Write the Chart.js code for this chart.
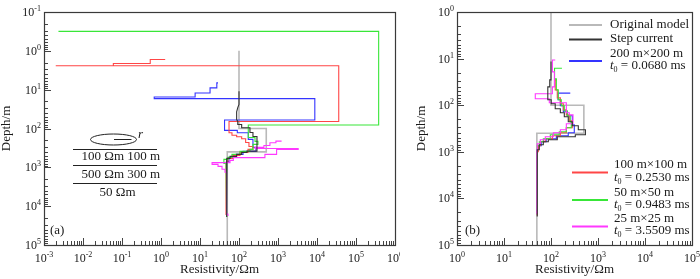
<!DOCTYPE html>
<html><head><meta charset="utf-8">
<script src="https://cdn.jsdelivr.net/npm/chart.js@4/dist/chart.umd.min.js"></script>
<style>
html,body{margin:0;padding:0;background:#fff;width:700px;height:279px;overflow:hidden}
canvas{position:absolute;top:0}
#ca{left:0}
#cb{left:400px}
</style></head><body>
<canvas id="ca" width="400" height="279"></canvas>
<canvas id="cb" width="300" height="279"></canvas>
<script>
// ---------- tick labels (exponents of 10) ----------
const xExpA = [-3,-2,-1,0,1,2,3,4,5,6];
const yExpA = [-1,0,1,2,3,4,5];
const xExpB = [0,1,2,3,4,5];
const yExpB = [0,1,2,3,4,5];

// ---------- series names ----------
const seriesNames = ['Original model','Step current','200 m×200 m','100 m×100 m','50 m×50 m','25 m×25 m'];
const t0Labels = ['', '', '0.0680', '0.2530', '0.9483', '3.5509'];

// ---------- original model (both panels) ----------
const origRes   = [100,100,500,500,50,50];
const origDepth = [1,100,100,400,400,100000];

// ---------- panel (a) ----------
const stepResA   = [100,100,93,87,87,93,93,117,117,191,191,228,228,289,289,160,160,117,117,87,87,59,59,49,49,48,48];
const stepDepthA = [11,24,29,37,59,66,79,79,96,96,127,127,160,160,382,382,412,412,464,464,522,522,588,588,702,702,19000];

const m200ResA   = [29,27,27,18.1,18.1,7.5,7.5,0.67,0.67,8790,8790,42.6,42.6,90.5,90.5,173,173,228,228,272,272,127,127,84,84,55.5,55.5,48,48];
const m200DepthA = [6.7,6.7,9.0,9.0,12.2,12.2,15.4,15.4,17,17,60.5,60.5,112,112,129,129,191,191,307,307,389,389,464,464,554,554,702,702,16000];

const m100ResA   = [1.28,0.53,0.53,0.06,0.06,0.002,36100,36100,55.5,55.5,66,66,87,87,117,117,148,148,180,180,228,228,170,170,106,106,70,70,52,52,46.5,46.5];
const m100DepthA = [1.67,1.67,2.12,2.12,2.42,2.42,2.42,66,66,129,129,149,149,163,163,184,184,229,229,290,290,345,345,412,412,492,492,588,588,745,745,17000];

const m50ResA    = [0.00235,381000,381000,173,173,257,257,306,306,228,228,191,191,106,106,66,66,52,52,41,41,46.5,46.5,49,49];
const m50DepthA  = [0.316,0.316,81,81,170,170,215,215,257,257,345,345,389,389,464,464,554,554,623,623,789,789,17000,17000,19100];

const m25ResA    = [1236,884,884,621,621,436,436,257,257,3290,3290,921,921,462,462,71.5,71.5,58.9,58.9,20.4,20.4,29,29,36.7,36.7,43.8,43.8,48,48,52,52];
const m25DepthA  = [212,212,233,233,273,273,307,307,326,326,345,345,464,464,564,564,662,662,757,757,837,837,942,942,1125,1125,1343,1343,16000,16000,18000];

// ---------- panel (b) ----------
const stepResB   = [100,100,94,94,85.5,85.5,101,101,123,123,158,158,192,192,233,233,284,284,381,381,540,540,329,329,136,136,87.6,87.6,68.6,68.6,56.4,56.4,51,51];
const stepDepthB = [11.6,28.6,28.6,40.4,40.4,76.6,76.6,93.3,93.3,119,119,145,145,177,177,227,227,276,276,336,336,430,430,475,475,550,550,608,608,705,705,901,901,24500];

const m200ResB   = [257,141,141,158,158,183,183,222,222,284,284,313,313,233,233,130,130,79,79,62,62,54,54,51,51];
const m200DepthB = [55,55,76.6,76.6,103,103,138,138,169,169,263,263,390,390,452,452,524,524,608,608,740,740,901,901,22200];

const m100ResB   = [134,123,123,136,136,158,158,183,183,212,212,245,245,284,284,212,212,158,158,107,107,75.6,75.6,59.2,59.2,53.7,53.7,51,51];
const m100DepthB = [28.6,28.6,46.8,46.8,69.5,69.5,93.3,93.3,126,126,161,161,216,216,305,305,390,390,452,452,524,524,608,608,740,740,995,995,23300];

const m50ResB    = [171,119,119,130,130,143,143,166,166,192,192,222,222,257,257,270,270,212,212,150,150,96.6,96.6,68.6,68.6,56.4,56.4,51,51,50,50];
const m50DepthB  = [16.1,16.1,27.2,27.2,46.8,46.8,76.6,76.6,103,103,132,132,169,169,227,227,305,305,371,371,430,430,524,524,608,608,740,740,17400,17400,19200];

const m25ResB    = [123,107,107,118,118,107,107,46.3,46.3,92,92,212,212,245,245,294,294,212,212,158,158,112,112,75.6,75.6,59.2,59.2,51,51,50,50];
const m25DepthB  = [10.7,10.7,19.3,19.3,40.4,40.4,57,57,72.9,72.9,88.9,88.9,145,145,161,161,250,250,336,336,390,390,475,475,550,550,671,671,901,901,21100];

// ---------- styling ----------
const COLORS = ['#b9b9b9','#333333','#3434ff','#ff4646','#38e638','#ff38ff'];
const FONT = '"Liberation Serif","Times New Roman",serif';
const TXT = '#1a1a1a';

function pts(r,d){ return r.map((v,i)=>({x:v,y:d[i]})); }

function makeDatasets(list){
  // list in legend order; draw order: gray bottom, black top
  const orders = [6,1,5,4,3,2];
  return list.map((p,i)=>({
    label: seriesNames[i],
    data: pts(p[0],p[1]),
    showLine: true,
    borderColor: COLORS[i],
    backgroundColor: COLORS[i],
    borderWidth: i===0 ? 1.6 : 1.1,
    pointRadius: 0,
    tension: 0,
    fill: false,
    order: orders[i]
  }));
}

function drawPow(ctx,x,y,exp,align){
  ctx.font = '12px '+FONT;
  const w1 = ctx.measureText('10').width;
  ctx.font = '8px '+FONT;
  const w2 = ctx.measureText(exp).width;
  const tot = w1+w2;
  const x0 = align==='center' ? x - tot/2 : x - tot;
  ctx.textAlign='left'; ctx.textBaseline='alphabetic';
  ctx.font = '12px '+FONT; ctx.fillText('10', x0, y);
  ctx.font = '8px '+FONT; ctx.fillText(exp, x0+w1, y-5);
}

function decor(chart, xe, ye, yTitleX){
  const ctx = chart.ctx, a = chart.chartArea, xs = chart.scales.x, ys = chart.scales.y;
  ctx.save();
  ctx.strokeStyle = '#444'; ctx.lineWidth = 1;
  ctx.beginPath();
  const xmin = xe[0], xmax = xe[xe.length-1];
  for (let n=xmin;n<=xmax;n++){
    for (let k=1;k<10;k++){
      if (n===xmax && k>1) break;
      const px = Math.round(xs.getPixelForValue(k*Math.pow(10,n)))+0.5;
      const len = k===1?7:4;
      ctx.moveTo(px,a.bottom); ctx.lineTo(px,a.bottom-len);
    }
  }
  const ymin = ye[0], ymax = ye[ye.length-1];
  for (let n=ymin;n<=ymax;n++){
    for (let k=1;k<10;k++){
      if (n===ymax && k>1) break;
      const py = Math.round(ys.getPixelForValue(k*Math.pow(10,n)))+0.5;
      const len = k===1?7:4;
      ctx.moveTo(a.left,py); ctx.lineTo(a.left+len,py);
    }
  }
  ctx.stroke();
  ctx.strokeStyle = '#3a3a3a'; ctx.lineWidth = 1.2;
  ctx.strokeRect(Math.round(a.left)+0.5, Math.round(a.top)+0.5, Math.round(a.width), Math.round(a.height));
  ctx.fillStyle = TXT;
  xe.forEach(n=>{ drawPow(ctx, xs.getPixelForValue(Math.pow(10,n)), a.bottom+17, String(n), 'center'); });
  ye.forEach(n=>{ drawPow(ctx, a.left-3, ys.getPixelForValue(Math.pow(10,n))+4, String(n), 'right'); });
  // axis titles
  ctx.font = '13px '+FONT; ctx.textAlign='center'; ctx.textBaseline='middle';
  ctx.fillText('Resistivity/Ωm', (a.left+a.right)/2, 270);
  ctx.save();
  ctx.translate(yTitleX, (a.top+a.bottom)/2);
  ctx.rotate(-Math.PI/2);
  ctx.fillText('Depth/m', 0, 0);
  ctx.restore();
  ctx.restore();
}

function t0Text(ctx, x, y, val){
  ctx.textAlign='left'; ctx.textBaseline='middle';
  ctx.font = 'italic 13px '+FONT; ctx.fillText('t', x, y);
  let w = ctx.measureText('t').width;
  ctx.font = '8px '+FONT; ctx.fillText('0', x+w, y+4);
  w += ctx.measureText('0').width;
  ctx.font = '13px '+FONT; ctx.fillText(' = '+val+' ms', x+w, y);
}

const plugA = {
  id:'decorA',
  afterDraw(chart){
    decor(chart, xExpA, yExpA, 7);
    const ctx = chart.ctx;
    ctx.save();
    ctx.strokeStyle = '#222'; ctx.fillStyle = TXT; ctx.lineWidth = 1;
    // loop sketch
    ctx.beginPath(); ctx.ellipse(113.5,139.5,23,5.5,0,0,Math.PI*2); ctx.stroke();
    ctx.beginPath(); ctx.moveTo(114,139.5); ctx.lineTo(131.5,139.5); ctx.stroke();
    ctx.font = 'italic 13px '+FONT; ctx.textAlign='left'; ctx.textBaseline='middle';
    ctx.fillText('r', 138, 135);
    // layered model lines
    ctx.beginPath();
    ctx.moveTo(73,149.5); ctx.lineTo(157,149.5);
    ctx.moveTo(73,165.5); ctx.lineTo(157,165.5);
    ctx.moveTo(73,183.5); ctx.lineTo(157,183.5);
    ctx.stroke();
    ctx.font = '13px '+FONT;
    ctx.textAlign='left'; ctx.fillText('100 Ωm', 81.5, 157);
    ctx.textAlign='right'; ctx.fillText('100 m', 160, 157);
    ctx.textAlign='left'; ctx.fillText('500 Ωm', 81.5, 174.5);
    ctx.textAlign='right'; ctx.fillText('300 m', 160, 174.5);
    ctx.textAlign='center'; ctx.fillText('50 Ωm', 117.5, 192.5);
    ctx.textAlign='left'; ctx.fillText('(a)', 50, 230.5);
    ctx.restore();
  }
};

const plugB = {
  id:'decorB',
  afterDraw(chart){
    decor(chart, xExpB, yExpB, 22);
    const ctx = chart.ctx;
    ctx.save();
    ctx.fillStyle = TXT;
    const line = (c,x1,x2,y)=>{ ctx.strokeStyle=c; ctx.lineWidth=2; ctx.beginPath(); ctx.moveTo(x1,y); ctx.lineTo(x2,y); ctx.stroke(); };
    ctx.font = '13px '+FONT; ctx.textAlign='left'; ctx.textBaseline='middle';
    line(COLORS[0],169,202,25);   ctx.fillText(seriesNames[0],210,25);
    line(COLORS[1],169,202,39.5); ctx.fillText(seriesNames[1],210,39);
    line(COLORS[2],169,202,61);   ctx.fillText(seriesNames[2],210,53.5); t0Text(ctx,210,66,t0Labels[2]);
    line(COLORS[3],172,208,172.5); ctx.font='13px '+FONT; ctx.fillText(seriesNames[3],214,165); t0Text(ctx,214,177.5,t0Labels[3]);
    line(COLORS[4],172,208,200);   ctx.font='13px '+FONT; ctx.fillText(seriesNames[4],214,192.5); t0Text(ctx,214,205,t0Labels[4]);
    line(COLORS[5],172,208,226.5); ctx.font='13px '+FONT; ctx.fillText(seriesNames[5],214,219); t0Text(ctx,214,231,t0Labels[5]);
    ctx.font='13px '+FONT; ctx.fillText('(b)', 65, 230.5);
    ctx.restore();
  }
};

function scalesCfg(xmin,xmax,ymin,ymax,yw){
  return {
    x:{ type:'logarithmic', position:'bottom', min:xmin, max:xmax,
        grid:{display:false}, border:{display:false}, ticks:{display:false},
        afterFit(s){ s.height = 34; } },
    y:{ type:'logarithmic', position:'left', min:ymin, max:ymax, reverse:true,
        grid:{display:false}, border:{display:false}, ticks:{display:false},
        afterFit(s){ s.width = yw; } }
  };
}

const common = {
  responsive:false, animation:false, devicePixelRatio:1,
  plugins:{ legend:{display:false}, tooltip:{enabled:false} },
  elements:{ line:{ borderJoinStyle:'miter' } }
};

new Chart(document.getElementById('ca'), {
  type:'scatter',
  data:{ datasets: makeDatasets([
    [origRes,origDepth],[stepResA,stepDepthA],[m200ResA,m200DepthA],
    [m100ResA,m100DepthA],[m50ResA,m50DepthA],[m25ResA,m25DepthA]]) },
  options: Object.assign({}, common, {
    layout:{ padding:{ left:0, right:5, top:12, bottom:0 } },
    scales: scalesCfg(1e-3,1e6,1e-1,1e5,44)
  }),
  plugins:[plugA]
});

new Chart(document.getElementById('cb'), {
  type:'scatter',
  data:{ datasets: makeDatasets([
    [origRes,origDepth],[stepResB,stepDepthB],[m200ResB,m200DepthB],
    [m100ResB,m100DepthB],[m50ResB,m50DepthB],[m25ResB,m25DepthB]]) },
  options: Object.assign({}, common, {
    layout:{ padding:{ left:0, right:8, top:12, bottom:0 } },
    scales: scalesCfg(1,1e5,1,1e5,57)
  }),
  plugins:[plugB]
});
</script>
</body></html>
